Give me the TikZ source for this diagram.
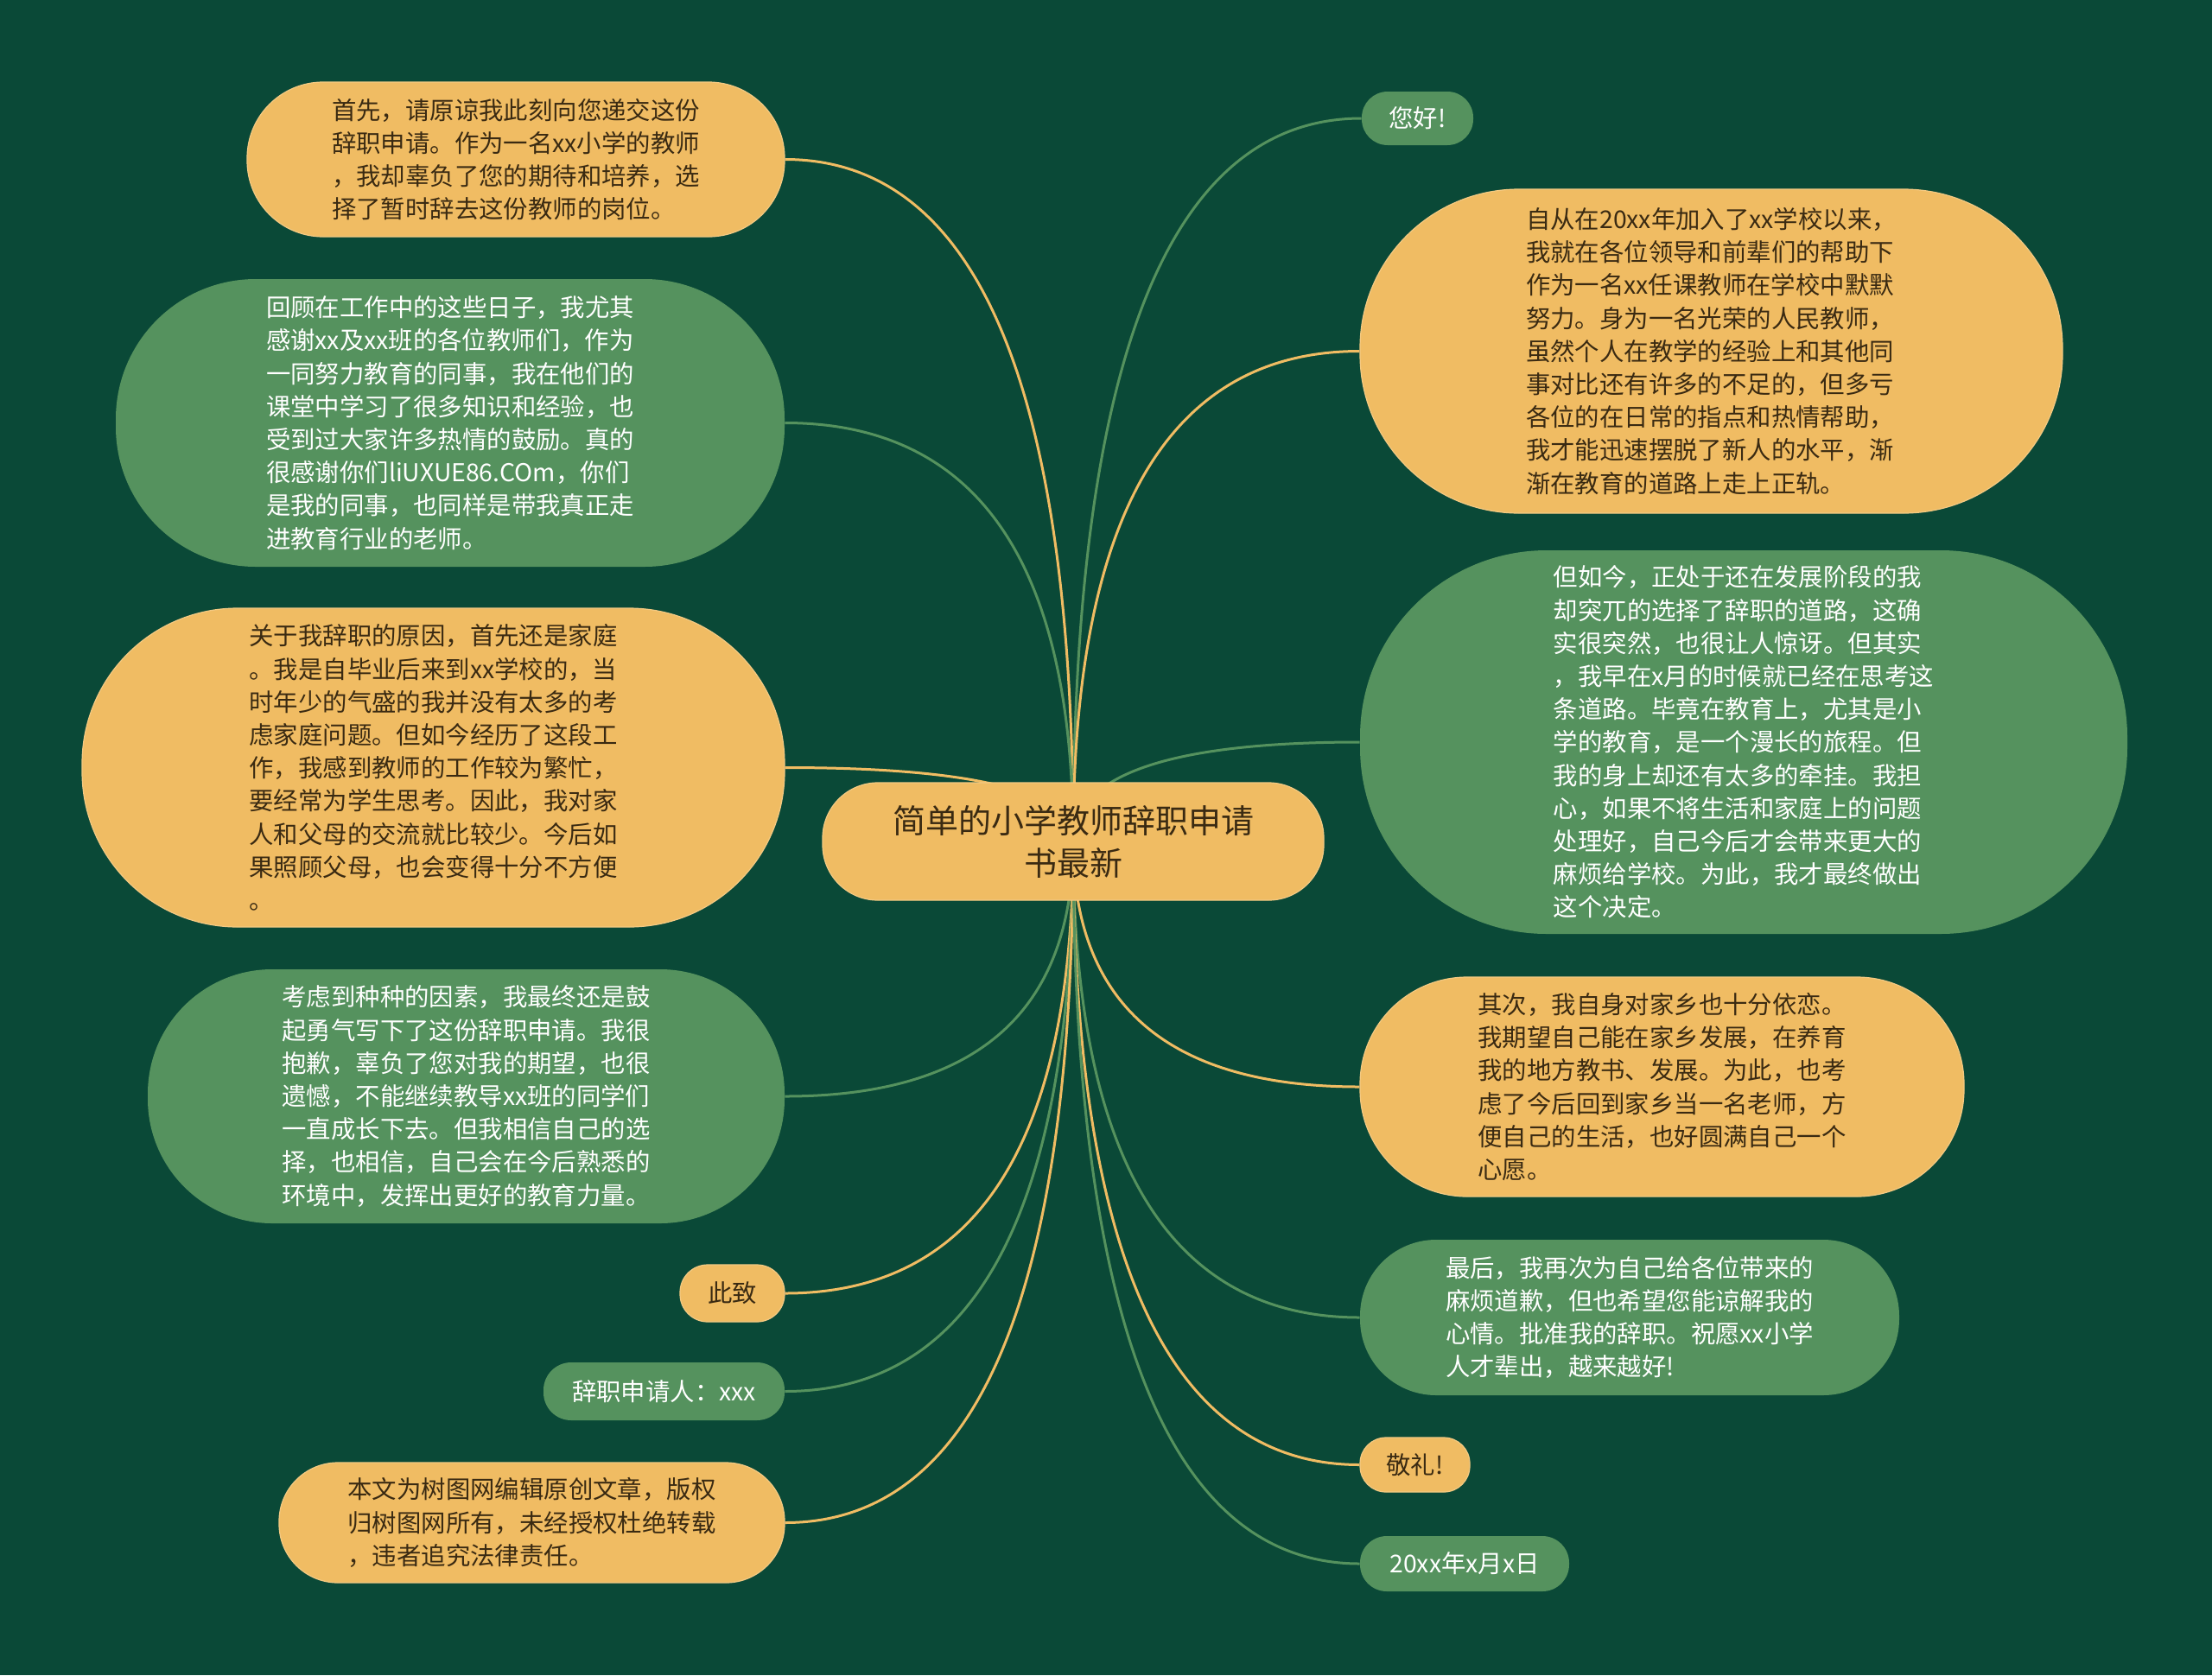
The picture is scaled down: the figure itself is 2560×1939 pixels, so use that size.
\documentclass[tikz,border=0pt]{standalone}
\usepackage{fontspec}
\setmainfont{Noto Sans CJK SC}
\usetikzlibrary{calc}
\definecolor{bgc}{HTML}{0A4937}
\definecolor{orf}{HTML}{F0BC63}
\definecolor{grf}{HTML}{55925E}
\definecolor{dtx}{HTML}{3A2A12}
\pgfdeclarelayer{bglayer}
\pgfdeclarelayer{edgelayer}
\pgfsetlayers{bglayer,edgelayer,main}
\tikzset{
  box/.style={rounded corners=#1, align=left, inner sep=0pt, font=\fontsize{14.2pt}{19.1pt}\selectfont},
  obox/.style={box=#1, fill=orf, draw=orf!80!white, line width=0.6pt, text=dtx},
  gbox/.style={box=#1, fill=grf, text=white},
  oedge/.style={draw=orf, line width=1.5pt},
  gedge/.style={draw=grf, line width=1.5pt},
}
\newcommand{\cedge}[2]{%
  \coordinate (tmpc) at (root.center |- #2);
  \draw[#1] (root.center) .. controls ($(root.center)!0.667!(tmpc)$) and ($(#2)!0.667!(tmpc)$) .. (#2);}
\begin{document}
\begin{tikzpicture}[x=0.5pt,y=-0.5pt]
\begin{pgfonlayer}{bglayer}
\fill[bgc] (0,0) rectangle (2560,1939);
\end{pgfonlayer}
\useasboundingbox (0,0) rectangle (2560,1939);

\node[obox=32pt, minimum width=290pt, minimum height=68pt, align=center, font=\fontsize{19pt}{24.5pt}\selectfont] (root) at (1242,974) {简单的小学教师辞职申请\\书最新};

% left
\node[obox=44pt, minimum width=311pt, minimum height=89.5pt] (L1) at (597,184.5) {首先，请原谅我此刻向您递交这份\\辞职申请。作为一名xx小学的教师\\，我却辜负了您的期待和培养，选\\择了暂时辞去这份教师的岗位。};
\node[gbox=81pt, minimum width=387pt, minimum height=166.5pt] (L2) at (521,489.5) {回顾在工作中的这些日子，我尤其\\感谢xx及xx班的各位教师们，作为\\一同努力教育的同事，我在他们的\\课堂中学习了很多知识和经验，也\\受到过大家许多热情的鼓励。真的\\很感谢你们liUXUE86.COm，你们\\是我的同事，也同样是带我真正走\\进教育行业的老师。};
\node[obox=90pt, minimum width=406.5pt, minimum height=184.5pt] (L3) at (501.5,888.5) {关于我辞职的原因，首先还是家庭\\。我是自毕业后来到xx学校的，当\\时年少的气盛的我并没有太多的考\\虑家庭问题。但如今经历了这段工\\作，我感到教师的工作较为繁忙，\\要经常为学生思考。因此，我对家\\人和父母的交流就比较少。今后如\\果照顾父母，也会变得十分不方便\\。};
\node[gbox=72pt, minimum width=368.5pt, minimum height=147pt] (L4) at (539.5,1269) {考虑到种种的因素，我最终还是鼓\\起勇气写下了这份辞职申请。我很\\抱歉，辜负了您对我的期望，也很\\遗憾，不能继续教导xx班的同学们\\一直成长下去。但我相信自己的选\\择，也相信，自己会在今后熟悉的\\环境中，发挥出更好的教育力量。};
\node[obox=16pt, minimum width=60.5pt, minimum height=33pt] (L5) at (847.5,1497) {此致};
\node[gbox=16pt, minimum width=139.5pt, minimum height=33.5pt] (L6) at (768.5,1610.5) {辞职申请人：xxx};
\node[obox=34pt, minimum width=292.5pt, minimum height=69.5pt] (L7) at (615.5,1762.5) {本文为树图网编辑原创文章，版权\\归树图网所有，未经授权杜绝转载\\，违者追究法律责任。};

% right
\node[gbox=15pt, minimum width=64.5pt, minimum height=31pt] (R1) at (1640.5,137) {您好!};
\node[obox=92pt, minimum width=406.5pt, minimum height=187.5pt] (R2) at (1980.5,406.5) {自从在20xx年加入了xx学校以来，\\我就在各位领导和前辈们的帮助下\\作为一名xx任课教师在学校中默默\\努力。身为一名光荣的人民教师，\\虽然个人在教学的经验上和其他同\\事对比还有许多的不足的，但多亏\\各位的在日常的指点和热情帮助，\\我才能迅速摆脱了新人的水平，渐\\渐在教育的道路上走上正轨。};
\node[gbox=108pt, minimum width=444pt, minimum height=222pt] (R3) at (2018,859) {但如今，正处于还在发展阶段的我\\却突兀的选择了辞职的道路，这确\\实很突然，也很让人惊讶。但其实\\，我早在x月的时候就已经在思考这\\条道路。毕竟在教育上，尤其是小\\学的教育，是一个漫长的旅程。但\\我的身上却还有太多的牵挂。我担\\心，如果不将生活和家庭上的问题\\处理好，自己今后才会带来更大的\\麻烦给学校。为此，我才最终做出\\这个决定。};
\node[obox=62pt, minimum width=349.5pt, minimum height=127pt] (R4) at (1923.5,1258) {其次，我自身对家乡也十分依恋。\\我期望自己能在家乡发展，在养育\\我的地方教书、发展。为此，也考\\虑了今后回到家乡当一名老师，方\\便自己的生活，也好圆满自己一个\\心愿。};
\node[gbox=44pt, minimum width=312pt, minimum height=90pt] (R5) at (1886,1525) {最后，我再次为自己给各位带来的\\麻烦道歉，但也希望您能谅解我的\\心情。批准我的辞职。祝愿xx小学\\人才辈出，越来越好!};
\node[obox=15pt, minimum width=63.5pt, minimum height=31.5pt] (R6) at (1637.5,1695.5) {敬礼!};
\node[gbox=15.5pt, minimum width=121pt, minimum height=32pt] (R7) at (1695,1810) {20xx年x月x日};

\begin{pgfonlayer}{edgelayer}
\cedge{oedge}{L1.east}
\cedge{gedge}{L2.east}
\cedge{oedge}{L3.east}
\cedge{gedge}{L4.east}
\cedge{oedge}{L5.east}
\cedge{gedge}{L6.east}
\cedge{oedge}{L7.east}
\cedge{gedge}{R1.west}
\cedge{oedge}{R2.west}
\cedge{gedge}{R3.west}
\cedge{oedge}{R4.west}
\cedge{gedge}{R5.west}
\cedge{oedge}{R6.west}
\cedge{gedge}{R7.west}
\end{pgfonlayer}
\end{tikzpicture}
\end{document}
